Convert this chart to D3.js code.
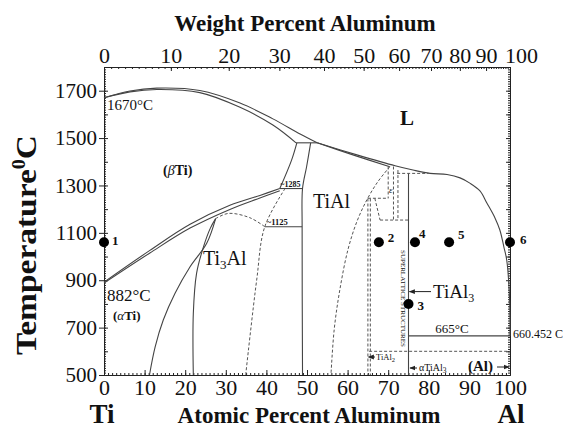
<!DOCTYPE html>
<html><head><meta charset="utf-8">
<script src="https://cdn.jsdelivr.net/npm/d3@7"></script>
<style>
body{margin:0;background:#fff}
svg{display:block}
text{font-family:"Liberation Serif","Times New Roman",serif;fill:#111}
.axis path,.axis line{stroke:#222;stroke-width:1}
.axis text{font-family:"Liberation Serif","Times New Roman",serif;fill:#111}
</style>
</head><body>
<svg id="c" width="566" height="430"></svg>
<script>
// ---------- data ----------
const atTicks = [0,10,20,30,40,50,60,70,80,90,100];
const wtTicks = [0,10,20,30,40,50,60,70,80,90,100];
const tempTicks = [500,700,900,1100,1300,1500,1700];

// phase boundaries: [atomic % Al, temperature °C]
const liquidusTi = [[0,1670],[6.4,1699],[13,1711],[23.6,1701],[33.5,1648],[41.6,1581],[48.3,1517],[52.5,1480]];
const solidusBeta = [[0,1670],[6.4,1695],[13,1705],[23.6,1692],[33.5,1630],[41.6,1555],[47.3,1480]];
const peritectic1480 = [[47.3,1480],[52.5,1480]];
const liquidusAl = [[52.5,1480],[62.3,1429],[71.7,1383],[76.1,1365],[80.3,1351],[84.5,1346],[87.7,1332],[90.1,1310],[92.6,1277],[94.3,1226],[96.3,1163],[97.5,1112],[98.5,1040],[99.2,985],[99.8,859],[100,745],[100,665]];
const solidusTiAl = [[52.5,1480],[61.5,1428],[70.4,1379]];
const betaTransus = [[0,892],[11.3,1026],[21.2,1136],[31,1216],[38.4,1258],[43.3,1287]];
const alphaLower = [[0,888],[11.3,1015],[21.2,1120],[31,1199],[38.4,1247],[43.3,1278]];
const betaRight = [[43.3,1287],[46.2,1407],[47.5,1480]];
const tialLeft = [[50.9,1480],[49.9,1379],[48.9,1287],[48.8,1126],[48.9,500]];
const iso1285 = [[43.3,1287],[48.9,1287]];
const iso1125 = [[39.6,1126],[48.8,1126]];
const alphaAlpha2 = [[11.2,500],[12.6,619],[14.6,732],[17.5,845],[21.2,957],[25.3,1056],[27.5,1160]];
const ti3alLeft = [[22,500],[22,760],[22.8,929],[24.5,1041],[26.2,1120],[27.5,1160]];
const ti3alDome = [[27.5,1160],[30.6,1182],[35.9,1164],[39.6,1126]];
const ti3alRight = [[44.6,1287],[39.6,1126],[37.6,900],[34.9,500]];
const tialRight = [[70.4,1379],[67.5,1317],[64.8,1241],[62.3,1148],[60.1,1030],[58.1,861],[56.7,692],[55.9,500]];
const tial2Left = [[65,1245],[65,500]];
const tial2Right = [[65.6,1245],[65.6,500]];
const epsA = [[70,1380],[70,1246]];
const epsB = [[71.3,1380],[71.3,1154]];
const epsC = [[72.4,1365],[72.4,1154]];
const iso1246 = [[65,1246],[70,1246]];
const epsLink = [[66.7,1246],[68,1154]];
const iso1154 = [[68,1154],[75,1154]];
const iso1351 = [[72.2,1351],[80,1351]];
const tial3Line = [[75,1351],[75,500]];
const iso665 = [[75,665],[100,665]];
const iso600 = [[65.3,600],[100,600]];

const sampleIds = ["1","2","3","4","5","6"];
const sampleAt = [0,67.7,75,76.6,85,100];
const sampleT = [1060,1060,800,1060,1060,1060];

// ---------- scales ----------
const svg = d3.select("#c");
const x = d3.scaleLinear().domain([0,100]).range([104,510]);
const y = d3.scaleLinear().domain([500,1800]).range([375,67]);
const wtToAt = w => { const a = w/26.98, b = (100-w)/47.867; return 100*a/(a+b); };
const wtDom = d3.range(0,101);
const xw = d3.scaleLinear().domain(wtDom).range(wtDom.map(w => x(wtToAt(w))));
const fmt = d3.format("d");

// markers
const defs = svg.append("defs");
defs.append("marker").attr("id","ah").attr("viewBox","0 0 10 10").attr("refX",9).attr("refY",5)
  .attr("markerWidth",6).attr("markerHeight",6).attr("orient","auto-start-reverse")
  .append("path").attr("d","M0,1L10,5L0,9Z").attr("fill","#222");

// ---------- axes ----------
function styleAxis(g){ g.attr("class","axis"); }
// bottom
svg.append("g").attr("transform","translate(0,375)")
  .call(d3.axisBottom(x).tickValues(d3.range(0,101,1)).tickSize(-2).tickSizeOuter(0).tickFormat(""))
  .call(styleAxis);
svg.append("g").attr("transform","translate(0,375)")
  .call(d3.axisBottom(x).tickValues(atTicks).tickSize(-5).tickSizeOuter(0).tickPadding(4).tickFormat(fmt))
  .call(styleAxis).call(g=>g.selectAll("text").attr("font-size",22));
// top
svg.append("g").attr("transform","translate(0,67)")
  .call(d3.axisTop(xw).tickValues(d3.range(0,101,1)).tickSize(-2).tickSizeOuter(0).tickFormat(""))
  .call(styleAxis);
const topAx = svg.append("g").attr("transform","translate(0,67)")
  .call(d3.axisTop(xw).tickValues(wtTicks).tickSize(-4).tickSizeOuter(0).tickPadding(4).tickFormat(fmt))
  .call(styleAxis);
topAx.selectAll("text").attr("font-size",22);
topAx.selectAll(".tick").filter(d=>d===100).select("text").attr("dx",11);
// left
svg.append("g").attr("transform","translate(104,0)")
  .call(d3.axisLeft(y).tickValues(d3.range(500,1801,10)).tickSize(-2).tickSizeOuter(0).tickFormat(""))
  .call(styleAxis);
svg.append("g").attr("transform","translate(104,0)")
  .call(d3.axisLeft(y).tickValues(d3.range(500,1801,100)).tickSize(-4).tickSizeOuter(0).tickFormat(""))
  .call(styleAxis);
svg.append("g").attr("transform","translate(104,0)")
  .call(d3.axisLeft(y).tickValues(tempTicks).tickSize(5).tickSizeOuter(0).tickPadding(2).tickFormat(fmt))
  .call(styleAxis).call(g=>g.selectAll("text").attr("font-size",21));
// right
svg.append("g").attr("transform","translate(510,0)")
  .call(d3.axisRight(y).tickValues(d3.range(500,1801,10)).tickSize(-2).tickSizeOuter(0).tickFormat(""))
  .call(styleAxis);
svg.append("g").attr("transform","translate(510,0)")
  .call(d3.axisRight(y).tickValues(d3.range(500,1801,100)).tickSize(-4).tickSizeOuter(0).tickFormat(""))
  .call(styleAxis);

// ---------- phase boundaries ----------
const smooth = d3.line().x(d=>x(d[0])).y(d=>y(d[1])).curve(d3.curveCatmullRom.alpha(0.5));
const straight = d3.line().x(d=>x(d[0])).y(d=>y(d[1]));
const plot = svg.append("g").attr("fill","none");
[liquidusTi, solidusBeta, liquidusAl, solidusTiAl, betaTransus, alphaLower, betaRight, tialLeft, alphaAlpha2, ti3alLeft]
  .forEach(c => plot.append("path").attr("d", smooth(c)).attr("stroke","#444").attr("stroke-width",1.1));
[peritectic1480, iso1285, iso1125, tial3Line, iso665]
  .forEach(c => plot.append("path").attr("d", straight(c)).attr("stroke","#444").attr("stroke-width",1.1));
[ti3alDome, ti3alRight, tialRight]
  .forEach(c => plot.append("path").attr("d", smooth(c)).attr("stroke","#555").attr("stroke-width",1).attr("stroke-dasharray","3,2"));
[tial2Left, tial2Right, epsA, epsB, epsC, iso1246, epsLink, iso1154, iso1351, iso600]
  .forEach(c => plot.append("path").attr("d", straight(c)).attr("stroke","#555").attr("stroke-width",1).attr("stroke-dasharray","3,2"));

// ---------- sample points ----------
const labOff = {"1":[8,3],"2":[9,0],"3":[9,6],"4":[4,-4],"5":[9,-3],"6":[10,2]};
sampleIds.forEach((id,i)=>{
  svg.append("circle").attr("cx",x(sampleAt[i])).attr("cy",y(sampleT[i])).attr("r",5).attr("fill","#000");
  svg.append("text").attr("x",x(sampleAt[i])+labOff[id][0]).attr("y",y(sampleT[i])+labOff[id][1])
    .attr("font-size",13).attr("font-weight","bold").text(id);
});

// ---------- text annotations ----------
function t(xp,yp,str,opt={}){
  const e = svg.append("text").attr("x",xp).attr("y",yp).attr("font-size",opt.size||14)
    .attr("font-weight",opt.bold?"bold":"normal").attr("text-anchor",opt.anchor||"start");
  if(opt.italic) e.attr("font-style","italic");
  e.text(str); return e;
}
// titles
t(305,31,"Weight Percent Aluminum",{size:23,bold:true,anchor:"middle"});
t(309,423,"Atomic Percent Aluminum",{size:23,bold:true,anchor:"middle"});
t(102,423,"Ti",{size:27,bold:true,anchor:"middle"});
t(511,423,"Al",{size:27,bold:true,anchor:"middle"});
const yt = svg.append("text").attr("transform","translate(36,245) rotate(-90)")
  .attr("text-anchor","middle").attr("font-size",30).attr("font-weight","bold")
  .attr("textLength",220).attr("lengthAdjust","spacingAndGlyphs");
yt.append("tspan").text("Temperature");
yt.append("tspan").attr("font-size",18).attr("dy",-11).text("0");
yt.append("tspan").attr("dy",11).text("C");

// region labels
t(107,110,"1670°C",{size:15});
t(107,301,"882°C",{size:17});
const a1 = svg.append("text").attr("x",113).attr("y",320).attr("font-size",13).attr("font-weight","bold");
a1.append("tspan").text("(");a1.append("tspan").attr("font-style","italic").attr("font-weight","normal").text("α");a1.append("tspan").text("Ti)");
const b1 = svg.append("text").attr("x",163).attr("y",175).attr("font-size",14).attr("font-weight","bold");
b1.append("tspan").text("(");b1.append("tspan").attr("font-style","italic").attr("font-weight","normal").text("β");b1.append("tspan").text("Ti)");
t(400,125,"L",{size:21,bold:true});
t(313,208,"TiAl",{size:20});
const t3 = svg.append("text").attr("x",203).attr("y",265).attr("font-size",20);
t3.append("tspan").text("Ti");t3.append("tspan").attr("font-size",13).attr("dy",4).text("3");t3.append("tspan").attr("dy",-4).text("Al");
t(x(43.3)+0.5,y(1287)-1.5,"~1285",{size:8,bold:true});
t(x(39.6)+2,y(1126)-2,"~1125",{size:8.5,bold:true});
t(389,193,"ε",{size:9,italic:true});

// TiAl3 arrow + label
svg.append("line").attr("x1",431).attr("y1",y(852)).attr("x2",x(75)+1).attr("y2",y(852))
  .attr("stroke","#222").attr("stroke-width",1).attr("marker-end","url(#ah)");
const ta = svg.append("text").attr("x",433).attr("y",y(852)+6.5).attr("font-size",19);
ta.append("tspan").text("TiAl");ta.append("tspan").attr("font-size",12).attr("dy",4).text("3");

svg.append("text").attr("transform",`translate(400.5,250) rotate(90)`).attr("font-size",6.5)
  .attr("textLength",97).attr("lengthAdjust","spacingAndGlyphs").text("SUPERLATTICE STRUCTURES");

t(452,333,"665°C",{size:13,anchor:"middle"});
t(513,338,"660.452 C",{size:12});

// TiAl2 label
svg.append("line").attr("x1",375).attr("y1",357).attr("x2",368.5).attr("y2",357)
  .attr("stroke","#222").attr("stroke-width",1).attr("marker-end","url(#ah)");
const t2 = svg.append("text").attr("x",376).attr("y",360).attr("font-size",8.5);
t2.append("tspan").text("TiAl");t2.append("tspan").attr("font-size",6.5).attr("dy",2).text("2");
// alpha TiAl3
svg.append("line").attr("x1",417).attr("y1",368).attr("x2",x(75)+1.5).attr("y2",368)
  .attr("stroke","#222").attr("stroke-width",1).attr("marker-end","url(#ah)");
const at3 = svg.append("text").attr("x",419).attr("y",371).attr("font-size",10);
at3.append("tspan").text("αTiAl");at3.append("tspan").attr("font-size",7.5).attr("dy",2).text("3");
// (Al)
t(468,371,"(Al)",{size:15,bold:true});
svg.append("line").attr("x1",497).attr("y1",367).attr("x2",x(100)-1).attr("y2",367)
  .attr("stroke","#222").attr("stroke-width",1).attr("marker-end","url(#ah)");
</script>
</body></html>
